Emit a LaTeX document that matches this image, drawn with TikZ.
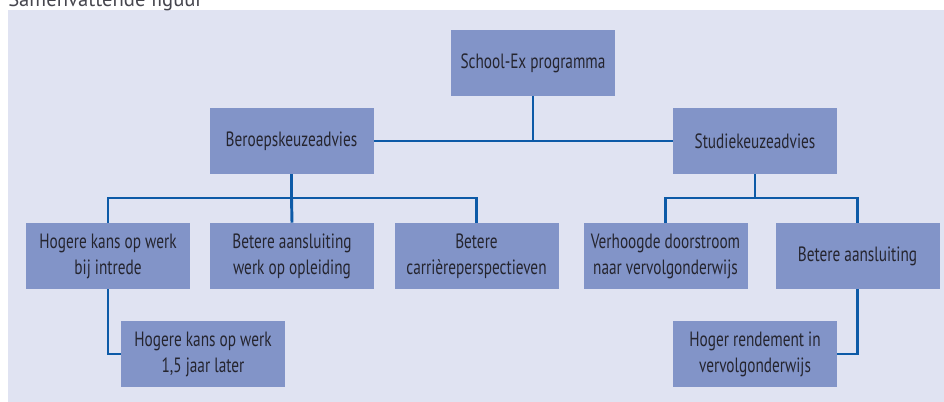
\documentclass[tikz,border=0pt]{standalone}
\usepackage{fontspec}
\setmainfont{PT Sans}
\newfontfamily\narrowfont[FakeStretch=0.74]{PT Sans}
\usetikzlibrary{positioning}
\definecolor{panelbg}{HTML}{E0E3F2}
\definecolor{boxfill}{HTML}{8294C8}
\definecolor{linkblue}{HTML}{0D5AA7}
\definecolor{inktext}{HTML}{25252F}
\tikzset{
    box/.style={rectangle, fill=boxfill, minimum width=123pt, minimum height=49.5pt,
        inner sep=2pt, align=center, text=inktext, font=\narrowfont\fontsize{15.5}{19.5}\selectfont},
    link/.style={draw=linkblue, line width=2.2pt},
}

\begin{document}
\begin{tikzpicture}[x=0.75pt,y=-0.75pt]
      \useasboundingbox (0,0) rectangle (944,402);
      \fill[panelbg] (8,10) rectangle (944,402);
      \node[anchor=base west, text=inktext!85, font=\fontsize{15.5}{18}\selectfont, inner sep=0pt] (title) at (8,6.5) {Samenvattende figuur};

      % top levels
      \node[box] (prog) at (533,63) {School-Ex programma};
      \node[box] (beroep) at (291.5,141) {Beroepskeuzeadvies};
      \node[box] (studie) at (755,141) {Studiekeuzeadvies};

      % effects
      \node[box] (kans1) at (108,256) {Hogere kans op werk\\bij intrede};
      \node[box] (aansl1) at (292,256) {Betere aansluiting\\werk op opleiding};
      \node[box] (carr) at (476.5,256) {Betere\\carri\`ereperspectieven};
      \node[box] (doorstr) at (665.5,256) {Verhoogde doorstroom\\naar vervolgonderwijs};
      \node[box] (aansl2) at (857.5,256) {Betere aansluiting};
      \node[box] (kans2) at (203,354) {Hogere kans op werk\\1,5 jaar later};
      \node[box] (rend) at (755,354) {Hoger rendement in\\vervolgonderwijs};

      \coordinate (bj) at (291.5,198);
      \coordinate (sj) at (755,198);

      \draw[link] (beroep.east) -- (studie.west);
      \draw[link] (prog.south) -- (prog.south |- beroep.east);
      \draw[link] (beroep.south) -- (bj);
      \draw[link] (kans1.north) |- (bj) -| (carr.north);
      \draw[link] (bj) -- (aansl1.north);
      \draw[link] (studie.south) -- (sj);
      \draw[link] (doorstr.north) |- (sj) -| (aansl2.north);
      \draw[link] (kans1.south) |- (kans2.west);
      \draw[link] (aansl2.south) |- (rend.east);
\end{tikzpicture}
\end{document}
